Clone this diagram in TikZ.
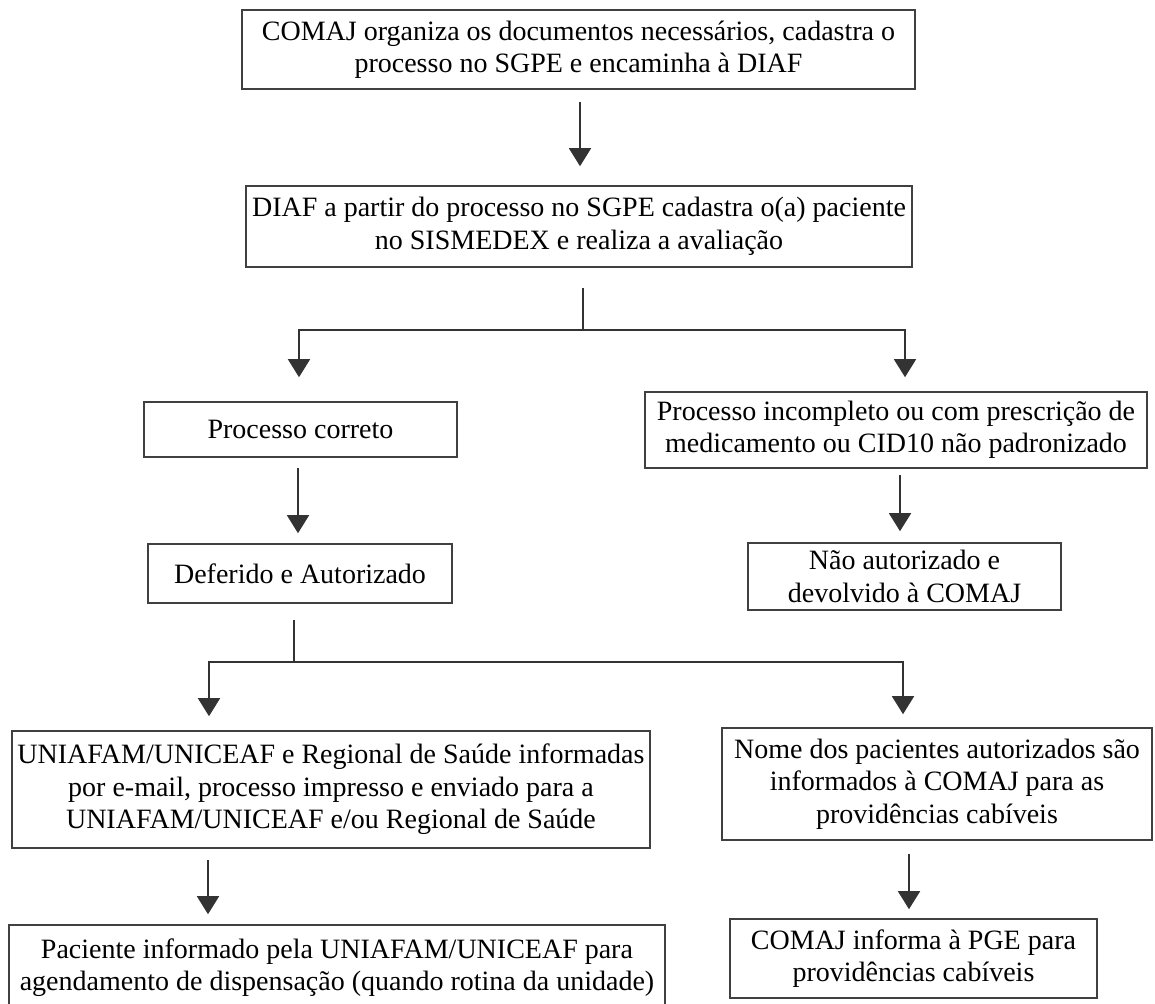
\documentclass[tikz,border=0pt]{standalone}
\usepackage{fontspec}
\setmainfont{Liberation Serif}
\usetikzlibrary{arrows.meta}
\begin{document}
\begin{tikzpicture}[x=1pt,y=-1pt,
  flowbox/.style={draw=black!75, line width=1.6pt, rectangle, inner sep=0pt, align=center,
    font=\fontsize{28}{32.5}\selectfont},
  conn/.style={draw=black!80, line width=1.6pt},
  arr/.style={conn, -{Triangle[width=22pt,length=18pt]}}]
\useasboundingbox (0,0) rectangle (1155,1003);
\fill[white] (0,0) rectangle (1155,1003);

\node[flowbox, minimum width=673pt, minimum height=79pt] (b1) at (578.5,49.5)
  {COMAJ organiza os documentos necessários, cadastra o\\ processo no SGPE e encaminha à DIAF};
\node[flowbox, minimum width=666pt, minimum height=81pt] (b2) at (579,226.5)
  {\raisebox{8pt}{\begin{tabular}{@{}c@{}}DIAF a partir do processo no SGPE cadastra o(a) paciente\\[0.5pt] no SISMEDEX e realiza a avaliação\end{tabular}}};
\node[flowbox, minimum width=313pt, minimum height=55pt] (correto) at (300.5,429.5)
  {Processo correto};
\node[flowbox, minimum width=304pt, minimum height=59pt] (deferido) at (300,573.5)
  {Deferido e Autorizado};
\node[flowbox, minimum width=502pt, minimum height=76pt] (incompleto) at (896,430)
  {Processo incompleto ou com prescrição de\\ medicamento ou CID10 não padronizado};
\node[flowbox, minimum width=313pt, minimum height=67pt] (nao) at (904.5,576.5)
  {Não autorizado e\\ devolvido à COMAJ};
\node[flowbox, minimum width=638pt, minimum height=117pt] (uniafam) at (331,789.5)
  {UNIAFAM/UNICEAF e Regional de Saúde informadas\\ por e-mail, processo impresso e enviado para a\\ UNIAFAM/UNICEAF e/ou Regional de Saúde};
\node[flowbox, minimum width=656pt, minimum height=85pt] (paciente) at (337,967.5)
  {Paciente informado pela UNIAFAM/UNICEAF para\\ agendamento de dispensação (quando rotina da unidade)};
\node[flowbox, minimum width=430pt, minimum height=112pt] (nome) at (937,784)
  {Nome dos pacientes autorizados são\\ informados à COMAJ para as\\ providências cabíveis};
\node[flowbox, minimum width=367pt, minimum height=79pt] (comaj) at (913.5,958.5)
  {COMAJ informa à PGE para\\ providências cabíveis};

% connectors
\draw[arr, shorten <=12pt, shorten >=19pt] ([xshift=1.5pt]b1.south) -- ([xshift=1.5pt]b1.south |- b2.north);

\coordinate (j1) at (583,330);
\draw[conn, shorten <=20pt] (b2.south -| j1) -- (j1);
\draw[arr, shorten >=24pt] (j1) -| ([xshift=-1.5pt]correto.north);
\draw[arr, shorten >=14pt] (j1) -| ([xshift=9pt]incompleto.north);

\draw[arr, shorten <=10pt, shorten >=10pt] ([xshift=-2.5pt]correto.south) -- ([xshift=-2.5pt]correto.south |- deferido.north);
\draw[arr, shorten <=6pt, shorten >=11pt] ([xshift=4pt]incompleto.south) -- ([xshift=4pt]incompleto.south |- nao.north);

\coordinate (j2) at (294,662);
\draw[conn, shorten <=16pt] (deferido.south -| j2) -- (j2);
\draw[arr, shorten >=14pt] (j2) -| ([xshift=-122pt]uniafam.north);
\draw[arr, shorten >=13pt] (j2) -| ([xshift=-34pt]nome.north);

\draw[arr, shorten <=11pt, shorten >=10pt] ([xshift=-123pt]uniafam.south) -- ([xshift=-123pt]uniafam.south |- paciente.north);
\draw[arr, shorten <=13pt, shorten >=9pt] ([xshift=-28pt]nome.south) -- ([xshift=-28pt]nome.south |- comaj.north);
\end{tikzpicture}
\end{document}
